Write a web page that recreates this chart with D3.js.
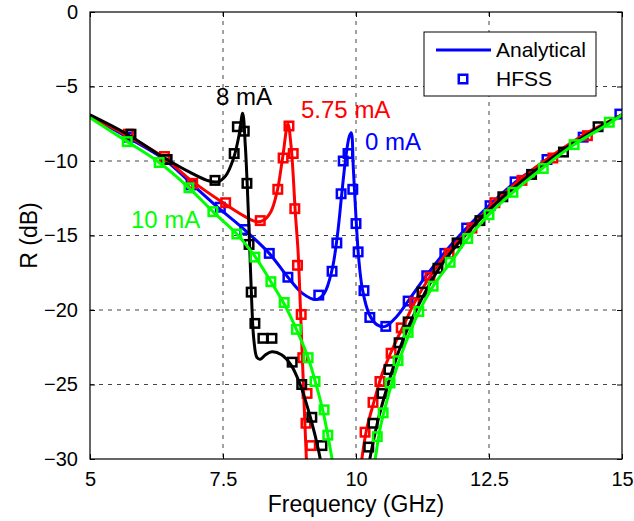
<!DOCTYPE html>
<html>
<head>
<meta charset="utf-8">
<script src="https://cdn.jsdelivr.net/npm/d3@7"></script>
<style>
  html, body { margin: 0; padding: 0; background: #fff; }
  text { font-family: "Liberation Sans", Arial, sans-serif; }
</style>
</head>
<body>
<div id="chart"></div>
<script>
// Tick values
const x_ticks = [5, 7.5, 10, 12.5, 15];
const y_ticks = [0, -5, -10, -15, -20, -25, -30];

// Analytical curves [GHz, dB]; null splits a branch that runs below -30 dB
const line_0mA = [[5.0,-7.0],[5.7,-8.4],[6.4,-9.9],[6.9,-11.5],[7.4,-13.1],[7.9,-14.6],[8.37,-16.2],[8.72,-17.8],
  [9.0,-18.9],[9.25,-19.3],[9.4,-18.9],[9.55,-17.3],[9.65,-15.0],[9.73,-12.3],[9.8,-10.0],[9.87,-8.4],[9.91,-8.1],
  [9.95,-10.5],[10.0,-13.8],[10.05,-16.5],[10.12,-18.6],[10.25,-20.3],[10.4,-21.0],[10.55,-21.1],[10.75,-20.5],
  [11.0,-19.3],[11.3,-17.8],[11.65,-16.2],[12.05,-14.6],[12.5,-13.0],[13.0,-11.4],[13.6,-9.9],[14.25,-8.4],[15.0,-6.9]];
const line_575mA = [[5.0,-7.0],[5.7,-8.3],[6.4,-9.8],[6.9,-11.3],[7.5,-12.8],[7.9,-13.7],[8.1,-14.05],[8.25,-14.0],
  [8.4,-13.4],[8.52,-12.0],[8.62,-9.8],[8.72,-7.5],[8.78,-9.0],[8.82,-11.0],[8.86,-13.5],[8.91,-16.0],[8.96,-20.3],
  [9.0,-24.0],[9.06,-29.4],[9.12,-34.0],
  null,
  [10.05,-32.0],[10.11,-30.0],[10.2,-28.0],[10.35,-26.0],[10.5,-24.2],[10.7,-22.5],[10.9,-21.0],[11.1,-19.5],
  [11.4,-17.7],[11.75,-16.0],[12.2,-14.3],[12.6,-12.8],[13.1,-11.2],[13.7,-9.6],[14.3,-8.2],[15.0,-6.9]];
const line_8mA = [[5.0,-6.9],[5.7,-8.2],[6.4,-9.8],[6.9,-10.8],[7.2,-11.3],[7.4,-11.4],[7.55,-11.0],[7.7,-9.8],
  [7.8,-8.3],[7.87,-6.8],[7.92,-9.0],[7.96,-12.0],[8.0,-15.6],[8.04,-19.5],[8.08,-22.0],[8.14,-23.2],[8.2,-23.3],
  [8.3,-23.0],[8.42,-22.8],[8.6,-23.0],[8.78,-23.7],[8.95,-25.0],[9.15,-27.3],[9.3,-29.5],[9.4,-31.5],
  null,
  [10.18,-32.0],[10.26,-30.0],[10.4,-27.6],[10.6,-25.0],[10.8,-22.8],[11.0,-21.0],[11.3,-18.8],[11.6,-17.0],
  [12.0,-15.2],[12.5,-13.3],[13.0,-11.7],[13.5,-10.3],[14.0,-9.0],[14.5,-7.9],[15.0,-6.9]];
const line_10mA = [[5.0,-7.1],[5.7,-8.7],[6.3,-10.1],[6.86,-11.8],[7.31,-13.4],[7.76,-14.9],[8.1,-16.4],[8.4,-18.1],
  [8.65,-19.6],[8.88,-21.3],[9.1,-23.2],[9.25,-25.0],[9.38,-26.8],[9.47,-28.4],[9.55,-30.0],[9.62,-31.5],
  null,
  [10.28,-31.5],[10.36,-30.0],[10.45,-28.0],[10.55,-26.5],[10.7,-24.6],[10.85,-23.0],[11.0,-21.6],[11.2,-20.0],
  [11.45,-18.4],[11.8,-16.7],[12.1,-15.2],[12.5,-13.6],[12.95,-12.1],[13.5,-10.5],[14.1,-8.9],[14.75,-7.5],[15.0,-6.9]];

// HFSS samples [GHz, dB]
const hfss_0mA = [[5.72,-8.4],[6.42,-9.9],[6.9,-11.6],[7.45,-13.1],[7.91,-14.6],[8.37,-16.2],[8.72,-17.8],[9.3,-19.0],
  [9.55,-17.4],[9.64,-15.5],[9.72,-12.2],[9.76,-10.0],[9.85,-9.5],[9.94,-11.9],[10.0,-14.2],[10.04,-16.1],
  [10.15,-18.7],[10.26,-20.5],[10.56,-21.1],[10.98,-19.4],[11.33,-17.7],[11.67,-16.2],[12.08,-14.5],[12.52,-13.0],
  [12.99,-11.4],[13.59,-9.9],[14.27,-8.4],[14.96,-6.85]];
const hfss_575mA = [[5.72,-8.2],[6.4,-9.7],[6.93,-11.5],[7.55,-12.8],[8.2,-14.0],[8.53,-11.9],[8.63,-9.8],[8.74,-7.65],
  [8.82,-9.5],[8.85,-13.2],[8.9,-17.0],[8.97,-20.3],[9.0,-23.2],[9.08,-25.6],[9.06,-27.6],[9.15,-29.1],
  [10.17,-28.2],[10.32,-26.2],[10.45,-24.8],[10.66,-22.9],[10.85,-21.2],[11.1,-19.5],[11.39,-17.8],[11.75,-16.2],
  [12.18,-14.5],[12.61,-12.8],[13.12,-11.3],[13.7,-9.8],[14.35,-8.3]];
const hfss_8mA = [[5.77,-8.2],[6.45,-9.9],[7.35,-11.3],[7.71,-9.5],[7.77,-7.7],[7.9,-8.0],[7.95,-11.5],[7.99,-15.6],
  [8.03,-18.8],[8.1,-20.9],[8.25,-21.9],[8.42,-21.9],[8.8,-23.5],[8.98,-25.0],[9.17,-27.2],[9.36,-29.1],
  [10.24,-29.2],[10.32,-27.6],[10.49,-25.6],[10.62,-24.0],[10.81,-22.2],[10.98,-20.8],[11.24,-18.8],[11.54,-17.2],
  [11.9,-15.5],[12.33,-14.0],[12.76,-12.4],[13.3,-10.9],[13.9,-9.4],[14.55,-7.7]];
const hfss_10mA = [[5.7,-8.7],[6.3,-10.1],[6.86,-11.8],[7.31,-13.4],[7.76,-14.9],[8.1,-16.45],[8.4,-18.1],[8.65,-19.5],
  [8.88,-21.3],[9.1,-23.2],[9.23,-24.8],[9.4,-26.7],[9.47,-28.4],
  [10.4,-28.5],[10.51,-26.9],[10.64,-24.9],[10.79,-23.4],[10.98,-21.5],[11.18,-20.1],[11.45,-18.4],[11.77,-16.8],
  [12.1,-15.2],[12.5,-13.6],[12.95,-12.1],[13.52,-10.5],[14.1,-8.9],[14.76,-7.4]];

const series_labels = ['0 mA', '5.75 mA', '8 mA', '10 mA'];
const legend_labels = ['Analytical', 'HFSS'];

function ReflectionPlotter() {
  this._width = 634;
  this._height = 521;
  this._left = 90;
  this._right = 622;
  this._top = 12;
  this._bottom = 459;
  this._tick_font_size = 20;
  this._label_font_size = 23;
  this._note_font_size = 24;
  this._legend_font_size = 21;
  this._line_width = 3;
  this._marker_size = 8.5;
  this._marker_stroke = 2.5;
  this._tick_len = 5;
}

ReflectionPlotter.prototype._add_grid = function(plot, x, y) {
  plot.append('svg:g')
    .attr('class', 'grid')
    .selectAll('line.gx')
    .data(x_ticks.slice(1, -1))
    .join('svg:line')
    .attr('x1', d => x(d)).attr('x2', d => x(d))
    .attr('y1', this._top).attr('y2', this._bottom)
    .attr('stroke', '#444').attr('stroke-width', 1).attr('stroke-dasharray', '4,5');
  plot.append('svg:g')
    .attr('class', 'grid')
    .selectAll('line.gy')
    .data(y_ticks.slice(1, -1))
    .join('svg:line')
    .attr('x1', this._left).attr('x2', this._right)
    .attr('y1', d => y(d)).attr('y2', d => y(d))
    .attr('stroke', '#444').attr('stroke-width', 1).attr('stroke-dasharray', '4,5');
}

ReflectionPlotter.prototype._add_axes = function(svg, x, y) {
  let self = this;
  let fmt = d3.format('~g');
  let style = function(g, show_text) {
    g.select('.domain').remove();
    g.selectAll('line').attr('stroke', '#000').attr('stroke-width', 1);
    g.selectAll('text')
      .attr('font-size', self._tick_font_size)
      .attr('fill', '#000')
      .style('display', show_text ? null : 'none');
  };

  let bottom = svg.append('svg:g')
    .attr('transform', 'translate(0,' + this._bottom + ')')
    .call(d3.axisBottom(x).tickValues(x_ticks).tickFormat(fmt).tickSize(-this._tick_len).tickPadding(13));
  style(bottom, true);
  bottom.selectAll('text').attr('dy', '0.71em');

  let left = svg.append('svg:g')
    .attr('transform', 'translate(' + this._left + ',0)')
    .call(d3.axisLeft(y).tickValues(y_ticks).tickFormat(fmt).tickSize(-this._tick_len).tickPadding(12));
  style(left, true);

  let top = svg.append('svg:g')
    .attr('transform', 'translate(0,' + this._top + ')')
    .call(d3.axisTop(x).tickValues(x_ticks).tickSize(-this._tick_len));
  style(top, false);

  let right = svg.append('svg:g')
    .attr('transform', 'translate(' + this._right + ',0)')
    .call(d3.axisRight(y).tickValues(y_ticks).tickSize(-this._tick_len));
  style(right, false);

  svg.append('svg:rect')
    .attr('x', this._left).attr('y', this._top)
    .attr('width', this._right - this._left).attr('height', this._bottom - this._top)
    .attr('fill', 'none').attr('stroke', '#000').attr('stroke-width', 1.2);

  svg.append('svg:text')
    .attr('x', (this._left + this._right) / 2)
    .attr('y', 512)
    .attr('text-anchor', 'middle')
    .attr('font-size', this._label_font_size)
    .text('Frequency (GHz)');

  svg.append('svg:text')
    .attr('transform', 'translate(37,' + ((this._top + this._bottom) / 2) + ') rotate(-90)')
    .attr('text-anchor', 'middle')
    .attr('font-size', this._label_font_size)
    .text('R (dB)');
}

ReflectionPlotter.prototype._plot_series = function(plot, x, y, curve, samples, colour) {
  let s = this._marker_size;
  let line = d3.line()
    .defined(d => d !== null)
    .x(d => x(d[0]))
    .y(d => y(d[1]))
    .curve(d3.curveCatmullRom.alpha(0.5));

  plot.append('svg:path')
    .attr('d', line(curve))
    .attr('fill', 'none')
    .attr('stroke', colour)
    .attr('stroke-width', this._line_width)
    .attr('stroke-linejoin', 'round');

  plot.append('svg:g')
    .selectAll('rect')
    .data(samples)
    .join('svg:rect')
    .attr('x', d => x(d[0]) - s / 2)
    .attr('y', d => y(d[1]) - s / 2)
    .attr('width', s)
    .attr('height', s)
    .attr('fill', 'none')
    .attr('stroke', colour)
    .attr('stroke-width', this._marker_stroke);
}

ReflectionPlotter.prototype._add_notes = function(svg, colours) {
  let spots = [[365, 150], [301, 118], [216, 105], [131, 228]];
  svg.append('svg:g')
    .selectAll('text')
    .data(series_labels)
    .join('svg:text')
    .attr('x', (d, i) => spots[i][0])
    .attr('y', (d, i) => spots[i][1])
    .attr('font-size', this._note_font_size)
    .attr('fill', (d, i) => colours[i])
    .text(d => d);
}

ReflectionPlotter.prototype._add_legend = function(svg) {
  let s = this._marker_size;
  let legend = svg.append('svg:g')
    .attr('class', 'legend')
    .attr('transform', 'translate(424,32)');
  legend.append('svg:rect')
    .attr('width', 172).attr('height', 64)
    .attr('fill', '#fff').attr('stroke', '#000').attr('stroke-width', 1);
  legend.append('svg:line')
    .attr('x1', 12).attr('x2', 67).attr('y1', 18).attr('y2', 18)
    .attr('stroke', '#0000ff').attr('stroke-width', this._line_width);
  legend.append('svg:rect')
    .attr('x', 39 - s / 2).attr('y', 47 - s / 2).attr('width', s).attr('height', s)
    .attr('fill', 'none').attr('stroke', '#0000ff').attr('stroke-width', this._marker_stroke);
  legend.selectAll('text')
    .data(legend_labels)
    .join('svg:text')
    .attr('x', 72)
    .attr('y', (d, i) => 25 + i * 29)
    .attr('font-size', this._legend_font_size)
    .text(d => d);
}

ReflectionPlotter.prototype.plot = function(container) {
  let svg = d3.select(container).append('svg:svg')
    .attr('width', this._width)
    .attr('height', this._height);

  let x = d3.scaleLinear().domain([5, 15]).range([this._left, this._right]);
  let y = d3.scaleLinear().domain([-30, 0]).range([this._bottom, this._top]);

  svg.append('svg:defs').append('svg:clipPath')
    .attr('id', 'plot_clip')
    .append('svg:rect')
    .attr('x', this._left).attr('y', this._top)
    .attr('width', this._right - this._left).attr('height', this._bottom - this._top);

  this._add_grid(svg, x, y);

  let plot = svg.append('svg:g').attr('clip-path', 'url(#plot_clip)');
  let colours = ['#0000ff', '#ff0000', '#000000', '#00ff00'];
  let curves = [line_0mA, line_575mA, line_8mA, line_10mA];
  let samples = [hfss_0mA, hfss_575mA, hfss_8mA, hfss_10mA];
  for(let k = 0; k < curves.length; k++) {
    this._plot_series(plot, x, y, curves[k], samples[k], colours[k]);
  }

  this._add_axes(svg, x, y);
  this._add_notes(svg, colours);
  this._add_legend(svg);
}

new ReflectionPlotter().plot('#chart');
</script>
</body>
</html>
